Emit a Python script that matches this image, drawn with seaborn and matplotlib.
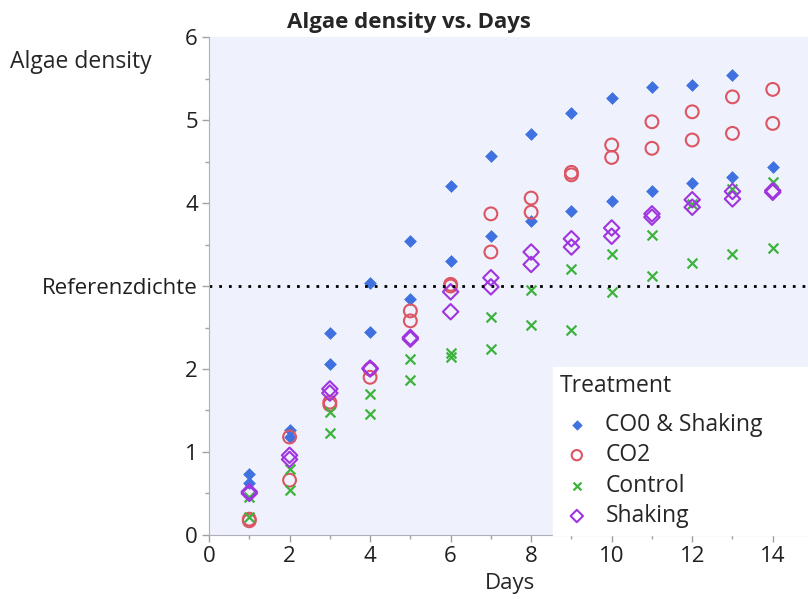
import matplotlib.pyplot as plt
import seaborn as sns
import pandas as pd

sns.set_style("ticks")
plt.rcParams['font.family'] = ['Open Sans', 'DejaVu Sans']

treatments = ["CO0 & Shaking", "CO2", "Control", "Shaking"]

# two replicates per day (day 14 has only one for CO0 & Shaking)
days_shake_co0 = [1, 1, 2, 2, 3, 3, 4, 4, 5, 5, 6, 6, 7, 7, 8, 8, 9, 9, 10, 10, 11, 11, 12, 12, 13, 13, 14]
dens_shake_co0 = [0.74, 0.63, 1.27, 1.18, 2.43, 2.06, 3.04, 2.45, 3.54, 2.84, 4.20, 3.30, 4.57, 3.60,
                  4.83, 3.78, 5.08, 3.90, 5.27, 4.02, 5.40, 4.15, 5.42, 4.24, 5.54, 4.31, 4.43]

days_co2 = [1, 1, 2, 2, 3, 3, 4, 4, 5, 5, 6, 6, 7, 7, 8, 8, 9, 9, 10, 10, 11, 11, 12, 12, 13, 13, 14, 14]
dens_co2 = [0.17, 0.19, 1.18, 0.66, 1.60, 1.57, 1.90, 2.00, 2.70, 2.58, 3.02, 3.00, 3.87, 3.41,
            4.06, 3.89, 4.37, 4.34, 4.70, 4.55, 4.98, 4.66, 5.10, 4.76, 5.28, 4.84, 5.37, 4.96]

days_control = [1, 1, 2, 2, 3, 3, 4, 4, 5, 5, 6, 6, 7, 7, 8, 8, 9, 9, 10, 10, 11, 11, 12, 12, 13, 13, 14, 14]
dens_control = [0.46, 0.22, 0.80, 0.54, 1.48, 1.23, 1.70, 1.46, 2.12, 1.87, 2.19, 2.15, 2.63, 2.24,
                2.95, 2.53, 3.20, 2.47, 3.39, 2.93, 3.61, 3.12, 3.99, 3.28, 4.17, 3.39, 4.25, 3.46]

days_shaking = [1, 1, 2, 2, 3, 3, 4, 4, 5, 5, 6, 6, 7, 7, 8, 8, 9, 9, 10, 10, 11, 11, 12, 12, 13, 13, 14, 14]
dens_shaking = [0.52, 0.50, 0.96, 0.91, 1.76, 1.71, 2.01, 2.00, 2.38, 2.36, 2.93, 2.69, 3.10, 2.99,
                3.41, 3.26, 3.57, 3.47, 3.70, 3.60, 3.87, 3.83, 4.04, 3.95, 4.14, 4.05, 4.15, 4.13]

df = pd.concat([
    pd.DataFrame({"Days": days_shake_co0, "Algae density": dens_shake_co0, "Treatment": treatments[0]}),
    pd.DataFrame({"Days": days_co2, "Algae density": dens_co2, "Treatment": treatments[1]}),
    pd.DataFrame({"Days": days_control, "Algae density": dens_control, "Treatment": treatments[2]}),
    pd.DataFrame({"Days": days_shaking, "Algae density": dens_shaking, "Treatment": treatments[3]}),
])

colors = {"CO0 & Shaking": "#3F72E0", "CO2": "#DC5563", "Control": "#3DB33D", "Shaking": "#A035E0"}
markers = {"CO0 & Shaking": "D", "CO2": "o", "Control": "x", "Shaking": "D"}
sizes = {"CO0 & Shaking": 36, "CO2": 85, "Control": 50, "Shaking": 62}
filled = {"CO0 & Shaking": True, "CO2": False, "Control": True, "Shaking": False}

fig = plt.figure(figsize=(8.08, 5.99), dpi=100)
ax = fig.add_axes([0.2587, 0.107, 0.745, 0.831])
ax.set_facecolor("#EFF2FC")

for t in treatments:
    sub = df[df["Treatment"] == t]
    c = colors[t]
    if markers[t] == "x":
        sns.scatterplot(data=sub, x="Days", y="Algae density", ax=ax, marker="x",
                        color=c, s=sizes[t], linewidth=1.6, label=t)
    elif filled[t]:
        sns.scatterplot(data=sub, x="Days", y="Algae density", ax=ax, marker=markers[t],
                        color=c, edgecolor=c, s=sizes[t], linewidth=0.5, label=t)
    else:
        sns.scatterplot(data=sub, x="Days", y="Algae density", ax=ax, marker=markers[t],
                        facecolors="none", edgecolor=c, s=sizes[t], linewidth=1.5, label=t)

ax.axhline(3, color="black", linestyle=(0, (1, 2.5)), linewidth=2, zorder=1)

ax.set_xlim(0, 14.95)
ax.set_ylim(0, 6)
ax.set_xticks([0, 2, 4, 6, 8, 10, 12, 14])
ax.set_xticks([1, 3, 5, 7, 9, 11, 13], minor=True)
ax.set_yticks([0, 1, 2, 3, 4, 5, 6], labels=["0", "1", "2", "Referenzdichte", "4", "5", "6"])
ax.set_yticks([0.5, 1.5, 2.5, 3.5, 4.5, 5.5], minor=True)
ax.tick_params(axis="both", which="major", labelsize=16, colors="#A0A0A8", labelcolor="#202020",
               length=5, width=1, pad=3)
ax.tick_params(axis="both", which="minor", colors="#A0A0A8", length=3, width=1)
for side in ["top", "right"]:
    ax.spines[side].set_visible(False)
for side in ["left", "bottom"]:
    ax.spines[side].set_color("#B0B0B8")

ax.set_xlabel("Days", fontsize=16, labelpad=4)
ax.set_ylabel("")
fig.text(0.012, 0.897, "Algae density", fontsize=16.5, ha="left", va="center")
fig.text(0.506, 0.962, "Algae density vs. Days", fontsize=16, fontweight="bold", ha="center", va="center")

leg = ax.legend(title="Treatment", loc="lower left", bbox_to_anchor=(0.571, 0.0, 0.44, 0.3),
                mode="expand", fontsize=16.5, title_fontsize=16.5, frameon=True, fancybox=False,
                borderaxespad=0, handlelength=1.5, handletextpad=0.5, labelspacing=0.28,
                borderpad=0.3, markerscale=0.8)
leg.get_frame().set_facecolor("white")
leg.get_frame().set_edgecolor("white")
leg.get_frame().set_alpha(1)
leg._legend_box.align = "left"
leg._legend_box.sep = 11

fig.savefig("out.png", dpi=100)
